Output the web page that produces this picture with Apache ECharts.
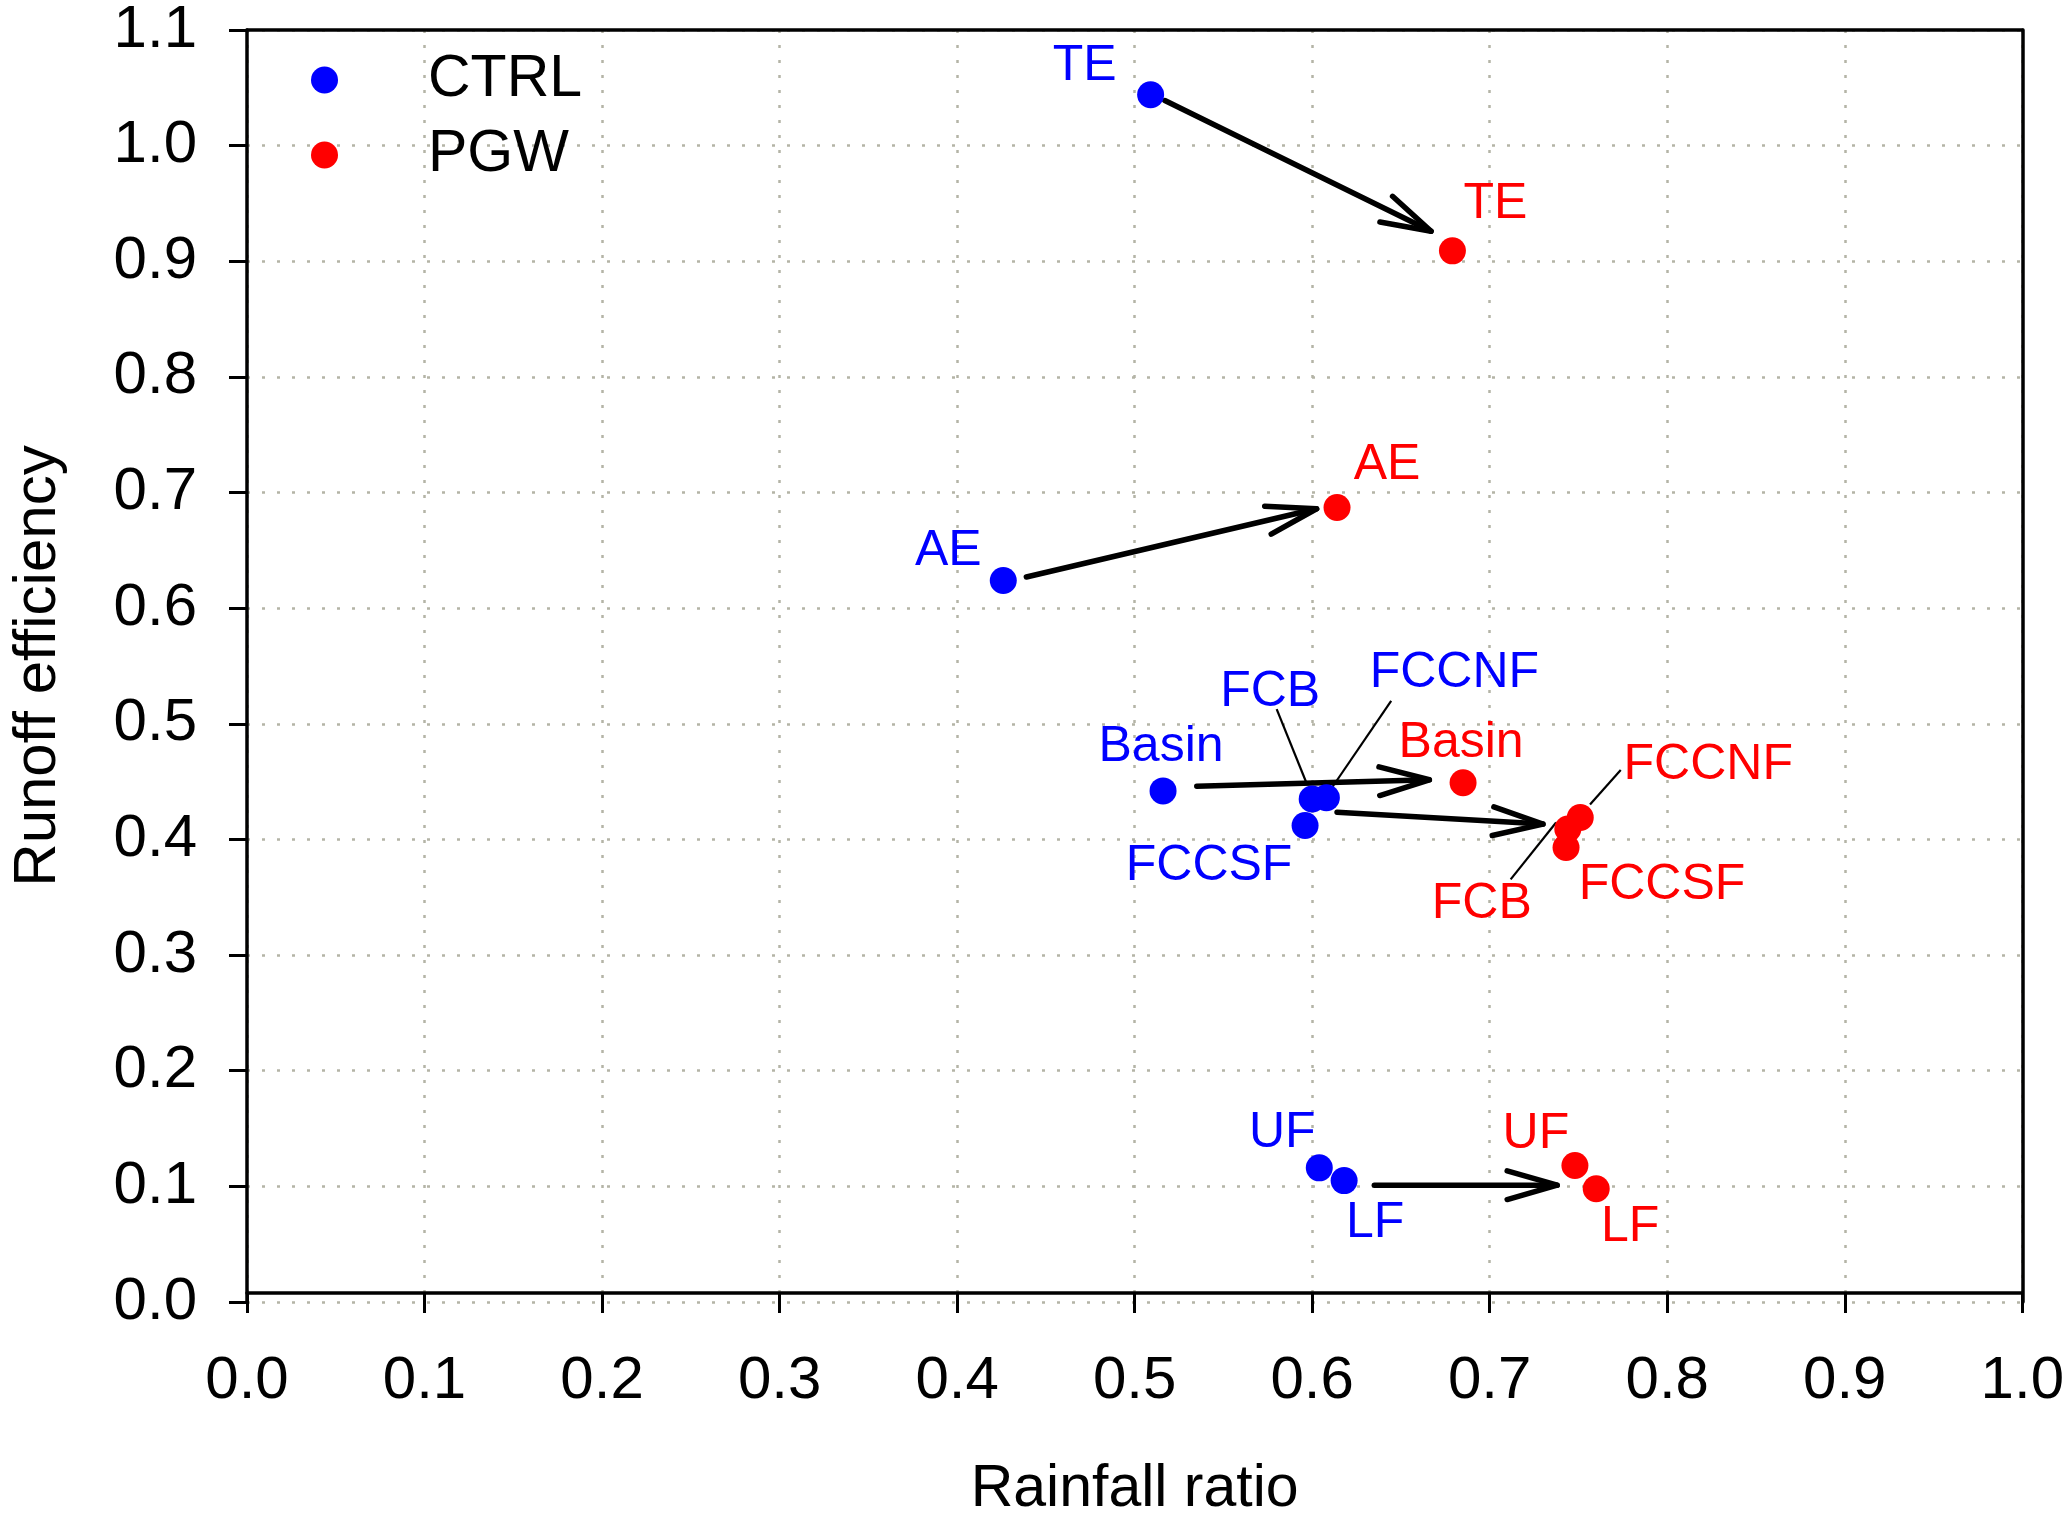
<!DOCTYPE html>
<html><head><meta charset="utf-8">
<script src="https://cdn.jsdelivr.net/npm/echarts@6/dist/echarts.min.js"></script>
<style>html,body{margin:0;padding:0;background:#fff}#c{width:2067px;height:1524px}</style>
</head><body><div id="c"></div>
<script>
// ---- data ----
const basins = ['TE', 'AE', 'Basin', 'FCB', 'FCCNF', 'FCCSF', 'UF', 'LF'];
const ctrlRainfall = [0.509, 0.426, 0.516, 0.600, 0.608, 0.596, 0.604, 0.618];
const ctrlRunoff   = [1.044, 0.624, 0.442, 0.435, 0.436, 0.412, 0.116, 0.105];
const pgwRainfall  = [0.679, 0.614, 0.685, 0.744, 0.751, 0.743, 0.748, 0.760];
const pgwRunoff    = [0.909, 0.687, 0.449, 0.409, 0.419, 0.393, 0.118, 0.098];

// arrows CTRL -> PGW (data coordinates)
const arrowStartX = [0.517, 0.439, 0.535, 0.614, 0.635];
const arrowStartY = [1.039, 0.627, 0.446, 0.4235, 0.101];
const arrowEndX   = [0.667, 0.6025, 0.666, 0.730, 0.738];
const arrowEndY   = [0.926, 0.686, 0.4516, 0.4133, 0.101];

// leader lines for crowded labels (data coordinates)
const leaderStartX = [0.580, 0.6445, 0.7738, 0.7374];
const leaderStartY = [0.5127, 0.5198, 0.4601, 0.4147];
const leaderEndX   = [0.5968, 0.611, 0.7565, 0.7118];
const leaderEndY   = [0.4488, 0.4445, 0.4303, 0.3655];

const seriesNames = ['CTRL', 'PGW'];

// ---- layout / style ----
const FONT = "'Liberation Sans', Arial, sans-serif";
const ctrlLabelOffsets = [[-66,-29],[-55,-29],[-2,-44],[-42,-107],[128,-125],[-96,41],[-37,-35],[31,43]];
const pgwLabelOffsets  = [[43,-47],[50,-42],[-2,-40],[-86,75],[128,-52],[96,38],[-39,-31],[34,39]];

function pts(xs, ys, offs) {
  return xs.map((x, i) => ({ value: [x, ys[i]], name: basins[i], label: { offset: offs[i] } }));
}

const chart = echarts.init(document.getElementById('c'), null, { renderer: 'canvas' });
const gridLine = { show: true, lineStyle: { color: '#b4b4a6', type: [3, 12], width: 2.5 } };
const fmt = v => v.toFixed(1);

chart.setOption({
  animation: false,
  backgroundColor: '#fff',
  textStyle: { fontFamily: FONT },
  grid: { left: 234, right: 41, top: 24, bottom: 209, containLabel: false },
  legend: {
    data: seriesNames, orient: 'vertical', left: 306, top: 45,
    itemWidth: 27, itemHeight: 27, itemGap: 15, icon: 'circle', selectedMode: false,
    textStyle: { fontSize: 59, fontFamily: FONT, color: '#000', padding: [0, 0, 0, 85], lineHeight: 60 }
  },
  xAxis: [{
    type: 'value', min: 0, max: 1, interval: 0.1, offset: -9,
    axisLine: { show: true, onZero: false, lineStyle: { color: '#000', width: 3.5 } },
    axisTick: { show: true, inside: false, length: 20, lineStyle: { color: '#000', width: 3 } },
    axisLabel: { fontSize: 60, margin: 58, color: '#000', fontFamily: FONT, formatter: fmt },
    splitLine: gridLine,
    name: 'Rainfall ratio', nameLocation: 'middle', nameGap: 167,
    nameTextStyle: { fontSize: 59, color: '#000', fontFamily: FONT }
  }, {
    type: 'value', position: 'top', min: 0, max: 1, interval: 0.1,
    axisLine: { show: true, onZero: false, lineStyle: { color: '#000', width: 3.5 } },
    axisTick: { show: false }, axisLabel: { show: false }, splitLine: { show: false }
  }],
  yAxis: [{
    type: 'value', min: 0, max: 1.1, interval: 0.1,
    axisLine: { show: true, onZero: false, lineStyle: { color: '#000', width: 3.5 } },
    axisTick: { show: true, inside: false, length: 18, lineStyle: { color: '#000', width: 3 } },
    axisLabel: { fontSize: 60, margin: 50, color: '#000', fontFamily: FONT, formatter: fmt },
    splitLine: gridLine,
    name: 'Runoff efficiency', nameLocation: 'middle', nameGap: 179,
    nameTextStyle: { fontSize: 60, color: '#000', fontFamily: FONT }
  }, {
    type: 'value', position: 'right', min: 0, max: 1.1, interval: 0.1,
    axisLine: { show: true, onZero: false, lineStyle: { color: '#000', width: 3.5 } },
    axisTick: { show: false }, axisLabel: { show: false }, splitLine: { show: false }
  }],
  series: [
    {
      type: 'custom', name: 'arrows', xAxisIndex: 0, yAxisIndex: 0, z: 3,
      encode: { x: [0, 2], y: [1, 3] },
      data: arrowStartX.map((x, i) => [x, arrowStartY[i], arrowEndX[i], arrowEndY[i]]),
      renderItem: function (params, api) {
        const p1 = api.coord([api.value(0), api.value(1)]);
        const p2 = api.coord([api.value(2), api.value(3)]);
        const ang = Math.atan2(p2[1] - p1[1], p2[0] - p1[0]);
        const L = 52, a = 16 * Math.PI / 180;
        const h1 = [p2[0] - L * Math.cos(ang - a), p2[1] - L * Math.sin(ang - a)];
        const h2 = [p2[0] - L * Math.cos(ang + a), p2[1] - L * Math.sin(ang + a)];
        const st = { stroke: '#000', fill: null, lineWidth: 5.5, lineCap: 'round', lineJoin: 'round' };
        return { type: 'group', children: [
          { type: 'line', shape: { x1: p1[0], y1: p1[1], x2: p2[0], y2: p2[1] }, style: st },
          { type: 'polyline', shape: { points: [h1, p2, h2] }, style: st }
        ] };
      }
    },
    {
      type: 'custom', name: 'leaders', xAxisIndex: 0, yAxisIndex: 0, z: 3,
      encode: { x: [0, 2], y: [1, 3] },
      data: leaderStartX.map((x, i) => [x, leaderStartY[i], leaderEndX[i], leaderEndY[i]]),
      renderItem: function (params, api) {
        const p1 = api.coord([api.value(0), api.value(1)]);
        const p2 = api.coord([api.value(2), api.value(3)]);
        return { type: 'line', shape: { x1: p1[0], y1: p1[1], x2: p2[0], y2: p2[1] },
                 style: { stroke: '#000', lineWidth: 2.2 } };
      }
    },
    {
      type: 'scatter', name: seriesNames[0], symbol: 'circle', symbolSize: 27, z: 4,
      itemStyle: { color: '#0000ff', opacity: 1 },
      label: { show: true, position: 'inside', formatter: '{b}', color: '#0000ff', fontSize: 50, fontFamily: FONT },
      emphasis: { disabled: true },
      data: pts(ctrlRainfall, ctrlRunoff, ctrlLabelOffsets)
    },
    {
      type: 'scatter', name: seriesNames[1], symbol: 'circle', symbolSize: 27, z: 4,
      itemStyle: { color: '#ff0000', opacity: 1 },
      label: { show: true, position: 'inside', formatter: '{b}', color: '#ff0000', fontSize: 50, fontFamily: FONT },
      emphasis: { disabled: true },
      data: pts(pgwRainfall, pgwRunoff, pgwLabelOffsets)
    }
  ]
});
</script>
</body></html>
